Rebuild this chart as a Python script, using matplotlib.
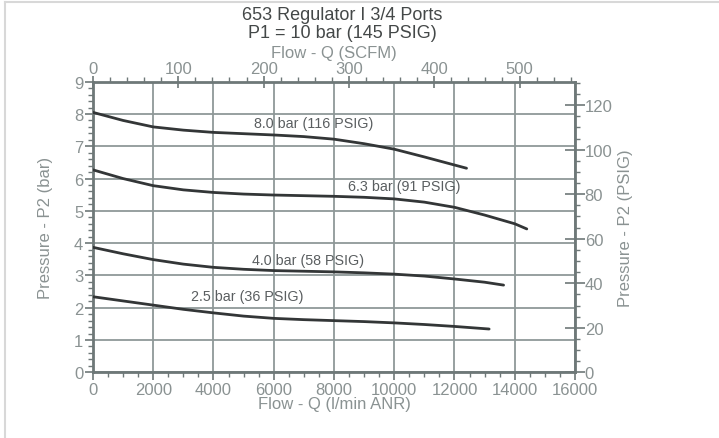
import matplotlib
matplotlib.use("Agg")
import matplotlib.pyplot as plt
from matplotlib.ticker import MultipleLocator
from matplotlib.lines import Line2D

plt.rcParams['font.family'] = ['Liberation Sans', 'DejaVu Sans']

# ---- data ----
flow_80 = [0, 1000, 2000, 3000, 4000, 5000, 6000, 7000, 8000, 9000, 10000, 11000, 12000, 12400]
p_80 = [8.05, 7.80, 7.60, 7.50, 7.43, 7.39, 7.35, 7.30, 7.22, 7.08, 6.91, 6.67, 6.42, 6.32]

flow_63 = [0, 1000, 2000, 3000, 4000, 5000, 6000, 7000, 8000, 9000, 10000, 11000, 12000, 13000, 14000, 14400]
p_63 = [6.27, 6.00, 5.78, 5.65, 5.57, 5.52, 5.49, 5.47, 5.45, 5.42, 5.37, 5.27, 5.11, 4.87, 4.60, 4.44]

flow_40 = [0, 1000, 2000, 3000, 4000, 5000, 6000, 7000, 8000, 9000, 10000, 11000, 12000, 13000, 13630]
p_40 = [3.87, 3.67, 3.49, 3.35, 3.25, 3.19, 3.15, 3.13, 3.11, 3.08, 3.04, 2.98, 2.89, 2.79, 2.70]

flow_25 = [0, 1000, 2000, 3000, 4000, 5000, 6000, 7000, 8000, 9000, 10000, 11000, 12000, 13150]
p_25 = [2.34, 2.21, 2.08, 1.95, 1.84, 1.74, 1.67, 1.63, 1.60, 1.57, 1.53, 1.48, 1.42, 1.34]

curve_labels = ["8.0 bar (116 PSIG)", "6.3 bar (91 PSIG)", "4.0 bar (58 PSIG)", "2.5 bar (36 PSIG)"]
label_x = [7330, 10330, 7130, 5130]
label_y = [7.72, 5.78, 3.48, 2.37]

x_ticks = [0, 2000, 4000, 6000, 8000, 10000, 12000, 14000, 16000]
y_ticks = [0, 1, 2, 3, 4, 5, 6, 7, 8, 9]
scfm_ticks = [0, 100, 200, 300, 400, 500]
psig_ticks = [0, 20, 40, 60, 80, 100, 120]

LPM_PER_SCFM = 28.3168
PSI_PER_BAR = 14.5038

title_line1 = "653 Regulator I 3/4 Ports"
title_line2 = "P1 = 10 bar (145 PSIG)"

# ---- styles ----
tick_col = '#8a9292'
spine_col = '#6e7878'
grid_col = '#8f9898'
curve_col = '#333637'
lab_col = '#5a5e60'
FS = 12

fig = plt.figure(figsize=(7.19, 4.39), dpi=100)
ax = fig.add_axes([0.1293, 0.1497, 0.6704, 0.6619])

ax.set_xlim(0, 16000)
ax.set_ylim(0, 9)
ax.set_xticks(x_ticks)
ax.set_yticks(y_ticks)
ax.xaxis.set_minor_locator(MultipleLocator(500))
ax.yaxis.set_minor_locator(MultipleLocator(0.2))
ax.grid(True, which='major', color=grid_col, lw=1.3)
ax.set_axisbelow(True)

for f, p in [(flow_80, p_80), (flow_63, p_63), (flow_40, p_40), (flow_25, p_25)]:
    ax.plot(f, p, color=curve_col, lw=2.0, solid_capstyle='round', zorder=3)

for t, lx, ly in zip(curve_labels, label_x, label_y):
    ax.text(lx, ly, t, ha='center', va='center', fontsize=10.3, color=lab_col, zorder=4)

for s in ax.spines.values():
    s.set_color(spine_col)
    s.set_linewidth(2.0)

ax.tick_params(axis='both', which='major', direction='out', length=6, width=1.2,
               color=spine_col, labelcolor=tick_col, labelsize=FS, pad=1)
ax.tick_params(axis='both', which='minor', direction='out', length=3.5, width=1.0,
               color=spine_col)
ax.set_xlabel("Flow - Q (l/min ANR)", fontsize=FS, color=tick_col, labelpad=-1)
ax.set_ylabel("Pressure - P2 (bar)", fontsize=FS, color=tick_col, labelpad=15)

# top axis (SCFM)
axt = ax.twiny()
axt.set_xlim(0, 16000 / LPM_PER_SCFM)
axt.set_xticks(scfm_ticks)
axt.xaxis.set_minor_locator(MultipleLocator(20))
axt.tick_params(axis='x', which='major', direction='inout', length=8, width=1.2,
                color=spine_col, labelcolor=tick_col, labelsize=FS, pad=0)
axt.tick_params(axis='x', which='minor', direction='out', length=3.5, width=1.0, color=spine_col)
axt.set_xlabel("Flow - Q (SCFM)", fontsize=FS, color=tick_col, labelpad=3)
for s in axt.spines.values():
    s.set_visible(False)

# right axis (PSIG)
axr = ax.twinx()
axr.set_ylim(0, 9 * PSI_PER_BAR)
axr.set_yticks(psig_ticks)
axr.yaxis.set_minor_locator(MultipleLocator(5))
axr.tick_params(axis='y', which='major', direction='inout', length=14, width=1.2,
                color=spine_col, labelcolor=tick_col, labelsize=FS, pad=0)
axr.tick_params(axis='y', which='minor', direction='out', length=3.5, width=1.0, color=spine_col)
axr.set_ylabel("Pressure - P2 (PSIG)", fontsize=FS, color=tick_col, labelpad=4)
for s in axr.spines.values():
    s.set_visible(False)

fig.text(0.4757, 1 - 15.5 / 439, title_line1, ha='center', va='center', fontsize=13, color='#444848')
fig.text(0.4757, 1 - 33 / 439, title_line2, ha='center', va='center', fontsize=13, color='#444848')

# light frame lines (left and top)
fig.add_artist(Line2D([0.007, 0.007], [0, 0.993], color='#d8d8d8', lw=1.5, transform=fig.transFigure))
fig.add_artist(Line2D([0.007, 1.0], [0.993, 0.993], color='#d8d8d8', lw=1.5, transform=fig.transFigure))

fig.savefig("out.png", dpi=100)
